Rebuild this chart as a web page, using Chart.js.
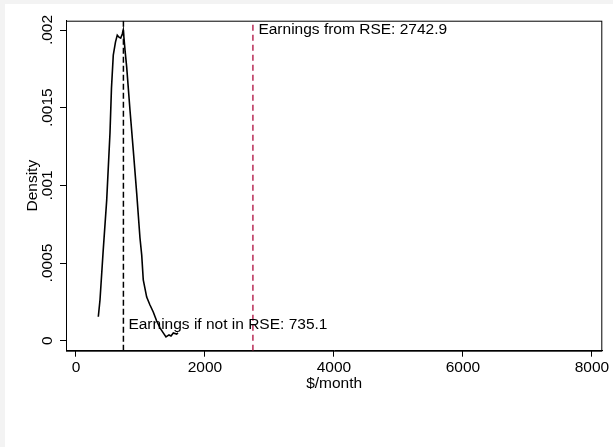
<!DOCTYPE html>
<html>
<head>
<meta charset="utf-8">
<script src="https://cdn.jsdelivr.net/npm/chart.js@4"></script>
<style>
    html, body { margin: 0; padding: 0; background: #ffffff; overflow: hidden; }
    #caixa { width: 613px; height: 447px; }
    #grafico { display: block; }
</style>
</head>
<body>
<div id="caixa"><canvas id="grafico" width="613" height="447"></canvas></div>
<script>
// curva de densidade (renda mensal x densidade)
const rendaMensal = [346, 372, 419, 476, 527, 550, 578, 612, 640, 667, 693, 718, 733,
    760, 786, 837, 888, 941, 992, 1019, 1043, 1096, 1147, 1198, 1251, 1302, 1353,
    1395, 1442, 1473, 1509, 1561, 1581];
const densidade = [0.000154, 0.000262, 0.000564, 0.000905, 0.001337, 0.001626, 0.001838,
    0.001922, 0.001967, 0.001954, 0.001948, 0.001974, 0.002,
    0.001871, 0.001761, 0.001485, 0.001227, 0.00095, 0.000661, 0.000551, 0.000391,
    0.000281, 0.00023, 0.000185, 0.000127, 0.000082, 0.00005, 0.000024, 0.000037,
    0.00003, 0.00005, 0.000043, 0.00005];

const ticksX = [0, 2000, 4000, 6000, 8000];
const ticksY = [0, 0.0005, 0.001, 0.0015, 0.002];
const rotulosY = ["0", ".0005", ".001", ".0015", ".002"];

const linhaSemRSE = 735.1;
const linhaRSE = 2742.9;
const textoSemRSE = "Earnings if not in RSE: 735.1";
const textoRSE = "Earnings from RSE: 2742.9";
const alturaTextoSemRSE = 0.0001;
const alturaTextoRSE = 0.002;

const xMin = -155, xMax = 8160;
const yMin = -0.0000644, yMax = 0.00206;

const fonte = { family: "'Liberation Sans', Arial, Helvetica, sans-serif", size: 15.5 };
const fonteCss = "15.5px 'Liberation Sans', Arial, Helvetica, sans-serif";

let pontos = rendaMensal.map(function (x, i) {
    return { x: x, y: densidade[i] };
});

const pluginMoldura = {
    id: "moldura",
    beforeDraw(chart) {
        const ctx = chart.ctx;
        ctx.save();
        ctx.fillStyle = "#ffffff";
        ctx.fillRect(0, 0, chart.width, chart.height);
        ctx.fillStyle = "#f3f3f3";
        ctx.fillRect(0, 0, chart.width, 4);
        ctx.fillRect(0, 0, 5, chart.height);
        ctx.restore();
    },
    afterDraw(chart) {
        const ctx = chart.ctx;
        const a = chart.chartArea;
        const sx = chart.scales.x;
        const sy = chart.scales.y;
        ctx.save();
        ctx.strokeStyle = "#000000";
        ctx.lineWidth = 1;
        ctx.strokeRect(a.left + 0.5, a.top + 0.5, a.right - a.left - 1, a.bottom - a.top);

        ctx.fillStyle = "#000000";
        ctx.font = fonteCss;

        // rotulos do eixo y, girados
        ctx.textAlign = "center";
        ctx.textBaseline = "alphabetic";
        ticksY.forEach(function (v, i) {
            ctx.save();
            ctx.translate(a.left - 14.5, sy.getPixelForValue(v));
            ctx.rotate(-Math.PI / 2);
            ctx.fillText(rotulosY[i], 0, 0);
            ctx.restore();
        });

        // textos das linhas
        ctx.textAlign = "left";
        ctx.textBaseline = "middle";
        ctx.fillText(textoRSE, sx.getPixelForValue(linhaRSE) + 5.5, sy.getPixelForValue(alturaTextoRSE));
        ctx.fillText(textoSemRSE, sx.getPixelForValue(linhaSemRSE) + 5, sy.getPixelForValue(alturaTextoSemRSE));
        ctx.restore();
    }
};

let grafico = new Chart(document.getElementById("grafico"), {
    type: "line",
    data: {
        datasets: [
            {
                data: [{ x: linhaSemRSE, y: yMin }, { x: linhaSemRSE, y: yMax }],
                borderColor: "#000000",
                borderDash: [6, 3],
                borderWidth: 1.5,
                pointRadius: 0
            },
            {
                data: [{ x: linhaRSE, y: yMin }, { x: linhaRSE, y: yMax }],
                borderColor: "#b82a55",
                borderDash: [6, 4],
                borderWidth: 1.5,
                pointRadius: 0
            },
            {
                data: pontos,
                borderColor: "#000000",
                borderWidth: 1.6,
                pointRadius: 0,
                tension: 0,
                fill: false
            }
        ]
    },
    options: {
        responsive: false,
        animation: false,
        layout: { padding: { top: 20.7, right: 10.7, left: 0, bottom: 0 } },
        plugins: {
            legend: { display: false },
            tooltip: { enabled: false }
        },
        scales: {
            x: {
                type: "linear",
                min: xMin,
                max: xMax,
                afterBuildTicks: function (s) {
                    s.ticks = ticksX.map(function (v) { return { value: v }; });
                },
                afterFit: function (s) { s.height = 96.3; },
                ticks: {
                    color: "#000000",
                    font: fonte,
                    padding: 2,
                    maxRotation: 0,
                    callback: function (v) { return String(v); }
                },
                grid: { drawOnChartArea: false, drawTicks: true, tickLength: 6, color: "#000000", lineWidth: 1 },
                border: { display: true, color: "#000000", width: 1 },
                title: {
                    display: true,
                    text: "$/month",
                    color: "#000000",
                    font: fonte,
                    padding: { top: 0, bottom: 54 }
                }
            },
            y: {
                type: "linear",
                min: yMin,
                max: yMax,
                afterBuildTicks: function (s) {
                    s.ticks = ticksY.map(function (v) { return { value: v }; });
                },
                afterFit: function (s) { s.width = 66; },
                ticks: { display: false },
                grid: { drawOnChartArea: false, drawTicks: true, tickLength: 6, color: "#000000", lineWidth: 1 },
                border: { display: true, color: "#000000", width: 1 },
                title: {
                    display: true,
                    text: "Density",
                    color: "#000000",
                    font: fonte,
                    padding: { top: 23, bottom: 0 }
                }
            }
        }
    },
    plugins: [pluginMoldura]
});
</script>
</body>
</html>
